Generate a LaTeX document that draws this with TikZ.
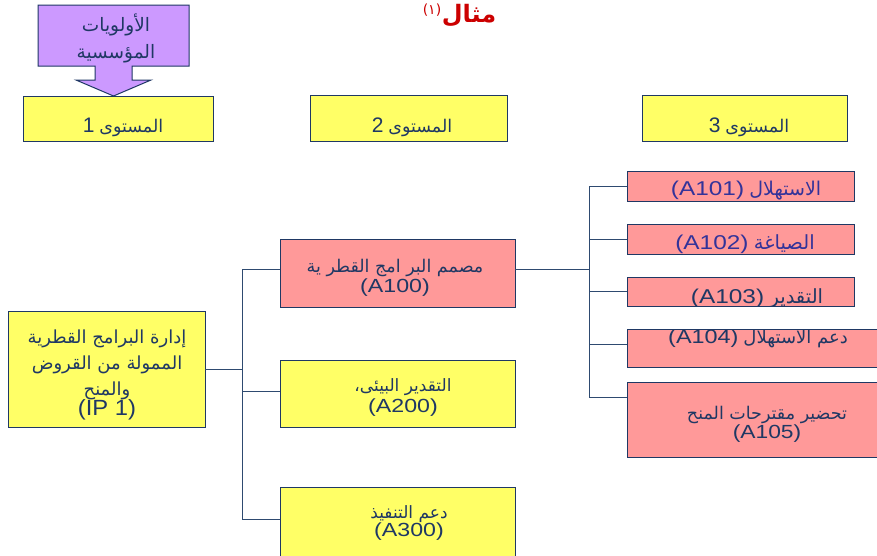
\documentclass[tikz,border=0pt]{standalone}
\usepackage{fontspec}
\setmainfont{Liberation Sans}
\newfontfamily\arabicfont[Script=Arabic]{DejaVu Sans}
\TeXXeTstate=1
\usetikzlibrary{calc}
\definecolor{yel}{HTML}{FFFF66}
\definecolor{pnk}{HTML}{FF9999}
\definecolor{prp}{HTML}{CC99FF}
\definecolor{bord}{HTML}{1F3864}
\definecolor{txt}{HTML}{1F3864}
\definecolor{txtb}{HTML}{333399}
\definecolor{lnk}{HTML}{2E4A70}
\definecolor{ttl}{HTML}{CC0000}
\newcommand\artext[1]{{\arabicfont\beginR #1\endR}}
\newcommand\latw[3]{{\rmfamily\fontsize{#1}{#1}\selectfont\scalebox{#2}[1]{#3}}}
\begin{document}
\begin{tikzpicture}[x=1pt,y=-1pt,
  box/.style={draw=bord, line width=1pt, inner sep=0pt, outer sep=0pt, anchor=north west},
  ybox/.style={box, fill=yel},
  pbox/.style={box, fill=pnk},
  lbl/.style={text=txt, inner sep=0pt, align=center},
  link/.style={draw=lnk, line width=1pt}]
\clip (0,0) rectangle (877,555);
\fill[white] (0,0) rectangle (877,555);

% title
\node[text=ttl, inner sep=0pt, font=\fontsize{24}{26}\bfseries] (title) at (469,16) {\artext{مثال}};
\node[text=ttl, inner sep=0pt, font=\fontsize{14}{16}\selectfont] (titlenote) at (432,10) {\arabicfont(١)};

% purple arrow
\draw[fill=prp, draw=bord, line width=1pt, line join=miter]
  (38,5) -- (189,5) -- (189,66) -- (132,66) -- (132,80) -- (151,80) -- (113.5,96)
  -- (76,80) -- (95,80) -- (95,66) -- (38,66) -- cycle;
\node[lbl, font=\fontsize{18.5}{27}\selectfont] (prio) at (116,38) {\artext{الأولويات}\\\artext{المؤسسية}};

% level headers
\node[ybox, minimum width=190, minimum height=45] (l1) at (23,96) {};
\node[ybox, minimum width=197, minimum height=46] (l2) at (310,95) {};
\node[ybox, minimum width=205, minimum height=46] (l3) at (642,95) {};
\node[lbl, font=\fontsize{17.5}{19}\selectfont] (l1t) at (123,127) {\latw{21}{1}{1}\ \artext{المستوى}};
\node[lbl, font=\fontsize{17.5}{19}\selectfont] (l2t) at (412,127) {\latw{21}{1}{2}\ \artext{المستوى}};
\node[lbl, font=\fontsize{17.5}{19}\selectfont] (l3t) at (749,127) {\latw{21}{1}{3}\ \artext{المستوى}};

% level 1
\node[ybox, minimum width=197, minimum height=116] (ip1) at (8,311) {};
\node[lbl, font=\fontsize{18}{26}\selectfont] (ip1t) at (107,375)
  {\artext{إدارة البرامج القطرية}\\\artext{الممولة من القروض}\\\artext{والمنح}\\[-6pt]\latw{22}{1.08}{(IP 1)}};

% level 2
\node[pbox, minimum width=235, minimum height=68] (a100) at (280,239) {};
\node[ybox, minimum width=235, minimum height=67] (a200) at (280,360) {};
\node[ybox, minimum width=235, minimum height=78] (a300) at (280,487) {};
\node[lbl, font=\fontsize{17.5}{20}\selectfont] (a100t) at (395,278)
  {\artext{مصمم البر امج القطر ية}\\\latw{19}{1.22}{(A100)}};
\node[lbl, font=\fontsize{17}{21}\selectfont] (a200t) at (403,397)
  {\artext{التقدير  البيئى،}\\\latw{19}{1.22}{(A200)}};
\node[lbl, font=\fontsize{17}{18}\selectfont] (a300t) at (409,523)
  {\artext{دعم التنفيذ}\\\latw{19}{1.22}{(A300)}};

% level 3
\node[pbox, minimum width=227, minimum height=30] (a101) at (627,171) {};
\node[pbox, minimum width=227, minimum height=30] (a102) at (627,224) {};
\node[pbox, minimum width=227, minimum height=29] (a103) at (627,277) {};
\node[pbox, minimum width=273, minimum height=38] (a104) at (627,329) {};
\node[pbox, minimum width=273, minimum height=75] (a105) at (627,382) {};
\node[lbl, text=txtb, font=\fontsize{19}{20}\selectfont] (a101t) at (746,191)
  {\latw{20}{1.22}{(A101)}\ \artext{الاستهلال}};
\node[lbl, text=txtb, font=\fontsize{19.5}{20}\selectfont] (a102t) at (745,244)
  {\latw{20}{1.22}{(A102)}\ \artext{الصياغة}};
\begin{scope}
  \clip (a103.north west) rectangle (a103.south east);
  \node[lbl, font=\fontsize{19.5}{20}\selectfont] (a103t) at (757,298)
    {\latw{20}{1.22}{(A103)}\ \artext{التقدير}};
\end{scope}
\begin{scope}
  \clip (a104.north west) rectangle (a104.south east);
  \node[lbl, font=\fontsize{18}{19}\selectfont] (a104t) at (758,339)
    {\latw{19.5}{1.2}{(A104)}\ \artext{دعم الاستهلال}};
\end{scope}
\node[lbl, font=\fontsize{17.5}{17}\selectfont] (a105t) at (767,424)
  {\artext{تحضير مقترحات المنح}\\\latw{19}{1.2}{(A105)}};

% connectors
\coordinate (j1) at (242,0);
\coordinate (j2) at (589,0);
\coordinate (c100) at ($(a100.west)+(0,-4)$);
\coordinate (c200) at ($(a200.west)+(0,-2)$);
\coordinate (c300) at ($(a300.north west)+(0,32)$);
\coordinate (e100) at ($(a100.east)+(0,-4)$);
\coordinate (c104) at ($(a104.west)+(0,-4)$);
\coordinate (c105) at ($(a105.north west)+(0,15)$);

\draw[link] (ip1.east) -- (ip1.east -| j1);
\draw[link] (j1 |- c100) -- (j1 |- c300);
\draw[link] (j1 |- c100) -- (c100);
\draw[link] (j1 |- c200) -- (c200);
\draw[link] (j1 |- c300) -- (c300);

\draw[link] (e100) -- (e100 -| j2);
\draw[link] (j2 |- a101.west) -- (j2 |- c105);
\draw[link] (j2 |- a101.west) -- (a101.west);
\draw[link] (j2 |- a102.west) -- (a102.west);
\draw[link] (j2 |- a103.west) -- (a103.west);
\draw[link] (j2 |- c104) -- (c104);
\draw[link] (j2 |- c105) -- (c105);
\end{tikzpicture}
\end{document}
